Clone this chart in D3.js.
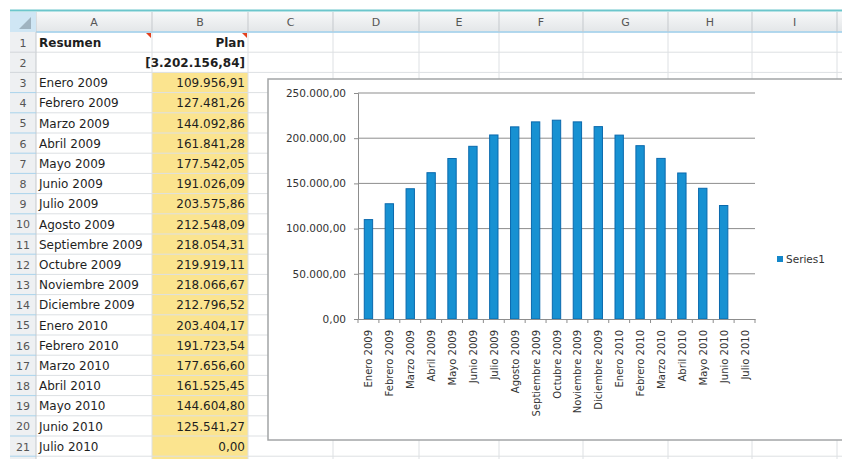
<!DOCTYPE html>
<html>
<head>
<meta charset="utf-8">
<style>
  body { margin: 0; background: #fff; }
  text { font-family: "DejaVu Sans", sans-serif; }
</style>
</head>
<body>
<script src="https://d3js.org/d3.v7.min.js"></script>
<script>
const months = ["Enero 2009", "Febrero 2009", "Marzo 2009", "Abril 2009", "Mayo 2009", "Junio 2009",
  "Julio 2009", "Agosto 2009", "Septiembre 2009", "Octubre 2009", "Noviembre 2009", "Diciembre 2009",
  "Enero 2010", "Febrero 2010", "Marzo 2010", "Abril 2010", "Mayo 2010", "Junio 2010", "Julio 2010"];
const plan = [109956.91, 127481.26, 144092.86, 161841.28, 177542.05, 191026.09,
  203575.86, 212548.09, 218054.31, 219919.11, 218066.67, 212796.52,
  203404.17, 191723.54, 177656.60, 161525.45, 144604.80, 125541.27, 0];
const total = 3202156.84; // celda B2 tal como aparece
const yTicks = [0, 50000, 100000, 150000, 200000, 250000];
const columns = ["A", "B", "C", "D", "E", "F", "G", "H", "I"];
const seriesName = "Series1";

const W = 842, H = 459;
const svg = d3.select("body").append("svg").attr("width", W).attr("height", H);

const es = d3.formatLocale({ decimal: ",", thousands: ".", grouping: [3], currency: ["", ""] });
const fmt = es.format(",.2f");

// --- hoja de calculo ---
const colEdges = [10, 36, 152, 248, 333, 419, 499, 583, 668, 752, 837, 921];
const HEAD_TOP = 12, HEAD_BOT = 32, ROW_H = 20.2;
const rowTop = r => HEAD_BOT + (r - 1) * ROW_H;
const nRows = 21;

// relleno amarillo columna B
svg.append("rect")
  .attr("x", colEdges[2]).attr("y", rowTop(3))
  .attr("width", colEdges[3] - colEdges[2]).attr("height", H - rowTop(3))
  .attr("fill", "#fbe48f");

// lineas de la cuadricula
const grid = svg.append("g").attr("stroke", "#dde0e3").attr("stroke-width", 1);
colEdges.slice(2).forEach(x => {
  grid.append("line").attr("x1", x).attr("x2", x).attr("y1", HEAD_BOT).attr("y2", H);
});
d3.range(1, nRows + 2).forEach(r => {
  grid.append("line").attr("x1", 36).attr("x2", W).attr("y1", rowTop(r)).attr("y2", rowTop(r));
});

// cabecera de columnas
const grad = svg.append("defs").append("linearGradient").attr("id", "hg")
  .attr("x1", 0).attr("x2", 0).attr("y1", 0).attr("y2", 1);
grad.append("stop").attr("offset", 0).attr("stop-color", "#f7f8f9");
grad.append("stop").attr("offset", 1).attr("stop-color", "#e3e6e8");

svg.append("rect").attr("x", 10).attr("y", HEAD_TOP).attr("width", W - 10).attr("height", HEAD_BOT - HEAD_TOP)
  .attr("fill", "url(#hg)");
svg.append("line").attr("x1", 10).attr("x2", W).attr("y1", 10.5).attr("y2", 10.5)
  .attr("stroke", "#6cc6cc").attr("stroke-width", 2);
svg.append("line").attr("x1", 10).attr("x2", W).attr("y1", HEAD_BOT).attr("y2", HEAD_BOT)
  .attr("stroke", "#9fd0ec").attr("stroke-width", 1.5);
colEdges.slice(1).forEach(x => {
  svg.append("line").attr("x1", x).attr("x2", x).attr("y1", HEAD_TOP).attr("y2", HEAD_BOT)
    .attr("stroke", "#c5c9cd");
});
columns.forEach((c, i) => {
  svg.append("text").attr("x", (colEdges[i + 1] + colEdges[i + 2]) / 2).attr("y", 26)
    .attr("text-anchor", "middle").attr("font-size", 11).attr("fill", "#555").text(c);
});
// esquina
svg.append("rect").attr("x", 10).attr("y", HEAD_TOP).attr("width", 26).attr("height", 20).attr("fill", "#cfe6f4");
svg.append("path").attr("d", "M31,17 L31,29 L19,29 Z").attr("fill", "#9fb3c0");

// numeros de fila
svg.append("rect").attr("x", 10).attr("y", HEAD_BOT).attr("width", 26).attr("height", H - HEAD_BOT)
  .attr("fill", "#eef0f2");
svg.append("line").attr("x1", 36).attr("x2", 36).attr("y1", HEAD_BOT).attr("y2", H).attr("stroke", "#c5c9cd");
d3.range(1, nRows + 1).forEach(r => {
  svg.append("line").attr("x1", 10).attr("x2", 36).attr("y1", rowTop(r + 1)).attr("y2", rowTop(r + 1))
    .attr("stroke", r > 2 ? "#a9d3ec" : "#d2d6da");
  svg.append("text").attr("x", 23).attr("y", rowTop(r) + 14.5).attr("text-anchor", "middle")
    .attr("font-size", 11).attr("fill", "#555").text(r);
});

// contenido de celdas
const cellText = (x, r, txt, anchor, bold) => svg.append("text")
  .attr("x", x).attr("y", rowTop(r) + 14.8).attr("text-anchor", anchor)
  .attr("font-size", 12).attr("font-weight", bold ? "bold" : "normal").attr("fill", "#1e1e1e").text(txt);

cellText(39, 1, "Resumen", "start", true);
cellText(245, 1, "Plan", "end", true);
cellText(245, 2, "[" + fmt(total) + "]", "end", true);
months.forEach((m, i) => {
  cellText(39, i + 3, m, "start", false);
  cellText(245, i + 3, fmt(plan[i]), "end", false);
});
// marcas rojas de comentario
[152, 248].forEach(x => {
  svg.append("path").attr("d", `M${x - 6},${HEAD_BOT + 1} L${x - 1},${HEAD_BOT + 1} L${x - 1},${HEAD_BOT + 6} Z`)
    .attr("fill", "#e2411e");
});

// --- grafico ---
svg.append("rect").attr("x", 268).attr("y", 79).attr("width", 640).attr("height", 361)
  .attr("fill", "#fff").attr("stroke", "#a3a5a7").attr("stroke-width", 1.5);

const PL = 358, PR = 755, PT = 93, PB = 319;
const x = d3.scaleBand().domain(months).range([PL, PR]).paddingInner(0.6).paddingOuter(0.3);
const y = d3.scaleLinear().domain([0, 250000]).range([PB, PT]);

// lineas horizontales
svg.append("g").selectAll("line").data(yTicks.slice(1)).join("line")
  .attr("x1", PL).attr("x2", PR).attr("y1", d => y(d)).attr("y2", d => y(d))
  .attr("stroke", "#8d8d8d").attr("stroke-width", 1);

// barras
svg.append("g").selectAll("rect").data(plan).join("rect")
  .attr("x", (d, i) => x(months[i]))
  .attr("width", x.bandwidth())
  .attr("y", d => y(d))
  .attr("height", d => y(0) - y(d))
  .attr("fill", "#1791d2")
  .attr("stroke", "#0a69ad").attr("stroke-width", 1);

// eje y
const yAxis = svg.append("g").attr("transform", `translate(${PL},0)`)
  .call(d3.axisLeft(y).tickValues(yTicks).tickFormat(fmt).tickSize(4).tickPadding(8));
yAxis.select(".domain").attr("stroke", "#8d8d8d");
yAxis.selectAll(".tick line").attr("stroke", "#8d8d8d");
yAxis.selectAll("text").attr("font-size", 10.5).attr("fill", "#333")
  .attr("font-family", "DejaVu Sans, sans-serif");

// eje x
const xAxis = svg.append("g").attr("transform", `translate(0,${PB})`)
  .call(d3.axisBottom(x).tickSize(0).tickPadding(0));
xAxis.select(".domain").attr("stroke", "#8d8d8d");
xAxis.selectAll("text")
  .attr("font-size", 10).attr("fill", "#333").attr("font-family", "DejaVu Sans, sans-serif")
  .attr("text-anchor", "end").attr("dy", null)
  .attr("transform", "translate(4,11) rotate(-90)");
// marcas en los limites de categoria
const step = x.step();
svg.append("g").selectAll("line").data(d3.range(months.length + 1)).join("line")
  .attr("x1", i => PL + i * step).attr("x2", i => PL + i * step)
  .attr("y1", PB).attr("y2", PB + 4).attr("stroke", "#8d8d8d");

// leyenda
svg.append("rect").attr("x", 777).attr("y", 256).attr("width", 6).attr("height", 6).attr("fill", "#1487c9");
svg.append("text").attr("x", 786).attr("y", 263).attr("font-size", 10.5).attr("fill", "#333").text(seriesName);
</script>
</body>
</html>
